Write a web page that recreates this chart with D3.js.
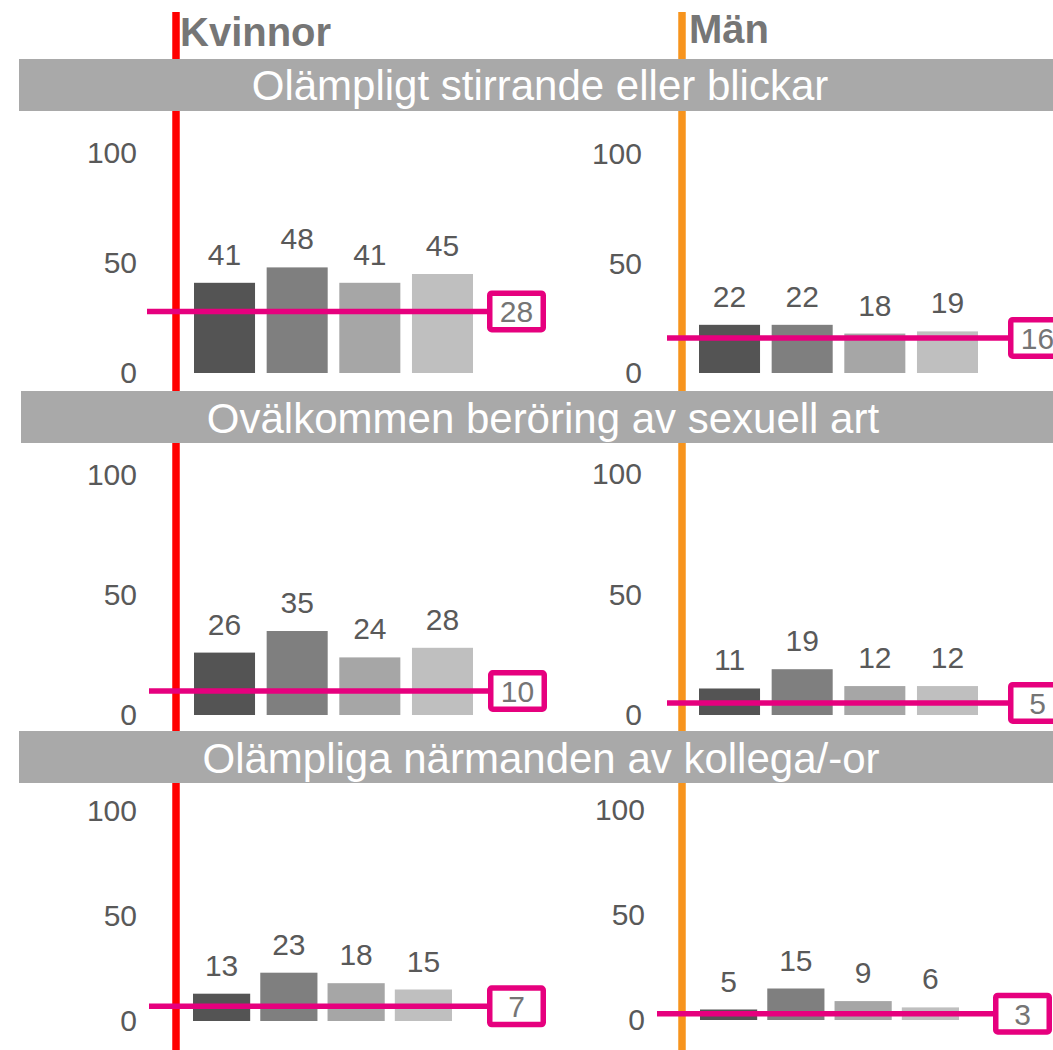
<!DOCTYPE html>
<html>
<head>
<meta charset="utf-8">
<script src="https://cdn.jsdelivr.net/npm/d3@7"></script>
<style>
  html, body { margin: 0; padding: 0; background: #fff; }
  svg { display: block; font-family: "Liberation Sans", Arial, sans-serif; }
</style>
</head>
<body>
<svg id="chart" width="1053" height="1050"></svg>
<script>
// ---------- DATA ----------
const categories = [
  "Olämpligt stirrande eller blickar",
  "Ovälkommen beröring av sexuell art",
  "Olämpliga närmanden av kollega/-or"
];
const groups = ["Kvinnor", "Män"];
const seriesKeys = ["s1", "s2", "s3", "s4"];
const kvinnorValues = [
  [41, 48, 41, 45],
  [26, 35, 24, 28],
  [13, 23, 18, 15]
];
const manValues = [
  [22, 22, 18, 19],
  [11, 19, 12, 12],
  [5, 15, 9, 6]
];
const kvinnorRef = [28, 10, 7];
const manRef = [16, 5, 3];
const yTicks = [0, 50, 100];

// ---------- STYLE / LAYOUT ----------
const barColors = ["#545454", "#7f7f7f", "#a6a6a6", "#bfbfbf"];
const groupColors = ["#ff0000", "#f7941d"];
const groupLineX = [176, 682];
const groupLabelX = [180, 689];
const groupLabelY = [46, 43];
const pink = "#e6007e";
const bandColor = "#a9a9a9";
const textColor = "#595959";

const bands = [
  { x0: 19, y0: 59, y1: 111, textX: 540, textY: 100 },
  { x0: 21, y0: 391, y1: 443, textX: 543, textY: 433 },
  { x0: 19, y0: 731, y1: 783, textX: 541, textY: 773 }
];

const panelGeom = [
  [{x0:194,x1:473,pad:0.16,tickX:137,lineX:147,boxX:487,base:373,top:153},
   {x0:699,x1:978,pad:0.16,tickX:642,lineX:667,boxX:1008,base:373,top:154}],
  [{x0:194,x1:473,pad:0.16,tickX:137,lineX:149,boxX:488,base:715,top:475},
   {x0:699,x1:978,pad:0.16,tickX:642,lineX:667,boxX:1008,base:715,top:474}],
  [{x0:193,x1:452,pad:0.15,tickX:137,lineX:149,boxX:487,base:1021,top:811},
   {x0:700,x1:959,pad:0.15,tickX:645,lineX:657,boxX:993,base:1020,top:810}]
];

const svg = d3.select("#chart");

// vertical group lines
groups.forEach((g, i) => {
  svg.append("line")
    .attr("x1", groupLineX[i]).attr("x2", groupLineX[i])
    .attr("y1", 12).attr("y2", 1050)
    .attr("stroke", groupColors[i]).attr("stroke-width", 7.5);
  svg.append("text")
    .attr("x", groupLabelX[i]).attr("y", groupLabelY[i])
    .attr("font-size", 40).attr("font-weight", "bold")
    .attr("fill", "#767676")
    .text(g);
});

// category bands
categories.forEach((c, r) => {
  const b = bands[r];
  svg.append("rect")
    .attr("x", b.x0).attr("y", b.y0)
    .attr("width", 1053 - b.x0).attr("height", b.y1 - b.y0)
    .attr("fill", bandColor);
  svg.append("text")
    .attr("x", b.textX).attr("y", b.textY)
    .attr("text-anchor", "middle")
    .attr("font-size", 42).attr("fill", "#ffffff")
    .text(c);
});

// panels
const allValues = [kvinnorValues, manValues];
const allRefs = [kvinnorRef, manRef];

categories.forEach((c, r) => {
  groups.forEach((g, gi) => {
    const geo = panelGeom[r][gi];
    const vals = allValues[gi][r];
    const ref = allRefs[gi][r];

    const x = d3.scaleBand().domain(seriesKeys)
      .range([geo.x0, geo.x1]).paddingInner(geo.pad).paddingOuter(0);
    const y = d3.scaleLinear().domain([0, 100]).range([geo.base, geo.top]);

    const p = svg.append("g");

    // y axis labels
    const axis = d3.axisLeft(y).tickValues(yTicks).tickSize(0).tickPadding(0)
      .tickFormat(d3.format("d"));
    const ag = p.append("g").attr("transform", `translate(${geo.tickX},0)`).call(axis);
    ag.select(".domain").remove();
    ag.selectAll("text")
      .attr("font-size", 30)
      .attr("font-family", "Liberation Sans, Arial, sans-serif")
      .attr("fill", textColor);

    const data = seriesKeys.map((k, i) => ({ k, v: vals[i], i }));

    p.selectAll("rect.bar").data(data).join("rect")
      .attr("class", "bar")
      .attr("x", d => x(d.k))
      .attr("width", x.bandwidth())
      .attr("y", d => y(d.v))
      .attr("height", d => y(0) - y(d.v))
      .attr("fill", d => barColors[d.i]);

    p.selectAll("text.val").data(data).join("text")
      .attr("class", "val")
      .attr("x", d => x(d.k) + x.bandwidth() / 2)
      .attr("y", d => y(d.v) - 18)
      .attr("text-anchor", "middle")
      .attr("font-size", 30)
      .attr("fill", textColor)
      .text(d => d.v);

    // reference line + box
    const ry = y(ref);
    p.append("line")
      .attr("x1", geo.lineX).attr("x2", geo.boxX + 3)
      .attr("y1", ry).attr("y2", ry)
      .attr("stroke", pink).attr("stroke-width", 5.5);
    const bw = 59, bh = 42, sw = 5.5;
    p.append("rect")
      .attr("x", geo.boxX + sw / 2).attr("y", ry - bh / 2 + sw / 2)
      .attr("width", bw - sw).attr("height", bh - sw)
      .attr("rx", 2)
      .attr("fill", "#ffffff")
      .attr("stroke", pink).attr("stroke-width", sw);
    p.append("text")
      .attr("x", geo.boxX + bw / 2).attr("y", ry)
      .attr("dy", "0.36em")
      .attr("text-anchor", "middle")
      .attr("font-size", 30)
      .attr("fill", "#757575")
      .text(ref);
  });
});
</script>
</body>
</html>
